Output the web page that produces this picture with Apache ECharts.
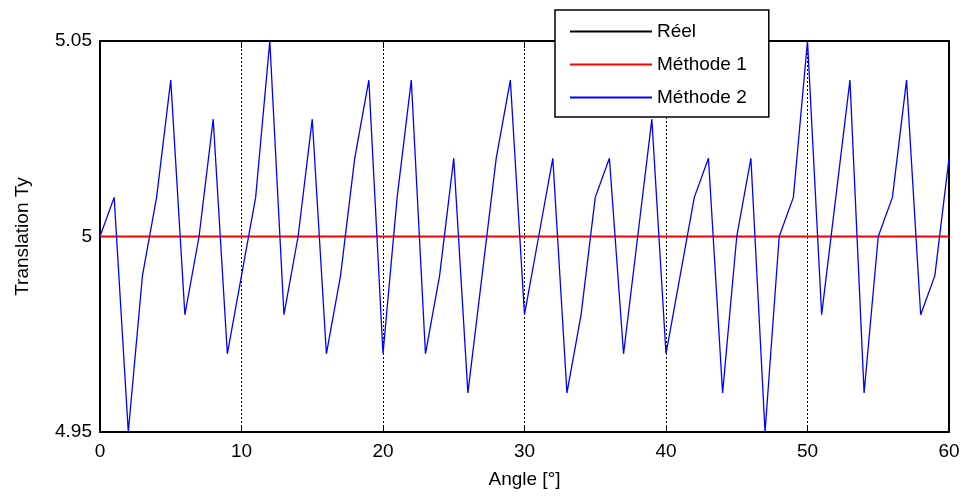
<!DOCTYPE html>
<html>
<head>
<meta charset="utf-8">
<script src="https://cdn.jsdelivr.net/npm/echarts@6/dist/echarts.min.js"></script>
<style>
  html, body { margin: 0; padding: 0; background: #fff; }
  #ct1 { width: 970px; height: 500px; }
</style>
</head>
<body>
<div id="ct1"></div>
<script>
// données
var angles = [0, 1, 2, 3, 4, 5, 6, 7, 8, 9, 10, 11, 12, 13, 14, 15, 16, 17, 18, 19, 20,
    21, 22, 23, 24, 25, 26, 27, 28, 29, 30, 31, 32, 33, 34, 35, 36, 37, 38, 39, 40,
    41, 42, 43, 44, 45, 46, 47, 48, 49, 50, 51, 52, 53, 54, 55, 56, 57, 58, 59, 60];
var reel = [5, 5, 5, 5, 5, 5, 5, 5, 5, 5, 5, 5, 5, 5, 5, 5, 5, 5, 5, 5, 5,
    5, 5, 5, 5, 5, 5, 5, 5, 5, 5, 5, 5, 5, 5, 5, 5, 5, 5, 5, 5,
    5, 5, 5, 5, 5, 5, 5, 5, 5, 5, 5, 5, 5, 5, 5, 5, 5, 5, 5, 5];
var methode1 = [5, 5, 5, 5, 5, 5, 5, 5, 5, 5, 5, 5, 5, 5, 5, 5, 5, 5, 5, 5, 5,
    5, 5, 5, 5, 5, 5, 5, 5, 5, 5, 5, 5, 5, 5, 5, 5, 5, 5, 5, 5,
    5, 5, 5, 5, 5, 5, 5, 5, 5, 5, 5, 5, 5, 5, 5, 5, 5, 5, 5, 5];
var methode2 = [5.00, 5.01, 4.95, 4.99, 5.01, 5.04, 4.98, 5.00, 5.03, 4.97,
    4.99, 5.01, 5.05, 4.98, 5.00, 5.03, 4.97, 4.99, 5.02, 5.04,
    4.97, 5.01, 5.04, 4.97, 4.99, 5.02, 4.96, 4.99, 5.02, 5.04,
    4.98, 5.00, 5.02, 4.96, 4.98, 5.01, 5.02, 4.97, 5.00, 5.03,
    4.97, 4.99, 5.01, 5.02, 4.96, 5.00, 5.02, 4.95, 5.00, 5.01,
    5.05, 4.98, 5.01, 5.04, 4.96, 5.00, 5.01, 5.04, 4.98, 4.99,
    5.02];
var xTicks = [0, 60, 10];
var yTicks = [4.95, 5.05, 0.05];

function pairs(vals) {
    return angles.map(function (a, i) { return [a, vals[i]]; });
}

window.onload = function () {
    var myChart = echarts.init(document.getElementById('ct1'));
    var font = 'Liberation Sans, Arial, sans-serif';

    var option = {
        animation: false,
        backgroundColor: '#fff',
        textStyle: { fontFamily: font },
        grid: { left: 100, right: 21, top: 41, bottom: 68 },
        legend: {
            orient: 'vertical',
            left: 555,
            top: 10,
            padding: [11, 22, 9, 15],
            itemGap: 12,
            itemWidth: 82,
            itemHeight: 2,
            icon: 'rect',
            backgroundColor: '#fff',
            borderColor: '#000',
            borderWidth: 1.5,
            textStyle: { fontSize: 19, color: '#000', lineHeight: 21, fontFamily: font },
            data: ['Réel', 'Méthode 1', 'Méthode 2']
        },
        xAxis: [{
            type: 'value',
            min: xTicks[0], max: xTicks[1], interval: xTicks[2],
            name: 'Angle [°]',
            nameLocation: 'middle',
            nameGap: 38,
            nameTextStyle: { fontSize: 19, color: '#000' },
            axisLine: { onZero: false, lineStyle: { color: '#000', width: 2 } },
            axisTick: { inside: true, length: 7, lineStyle: { color: '#000' } },
            axisLabel: { fontSize: 19, color: '#000', margin: 10 },
            splitLine: { show: true, lineStyle: { color: '#000', type: [2, 2], width: 1 } }
        }, {
            type: 'value',
            position: 'top',
            min: xTicks[0], max: xTicks[1], interval: xTicks[2],
            axisLine: { onZero: false, lineStyle: { color: '#000', width: 2 } },
            axisTick: { inside: true, length: 7, lineStyle: { color: '#000' } },
            axisLabel: { show: false },
            splitLine: { show: false }
        }],
        yAxis: [{
            type: 'value',
            min: yTicks[0], max: yTicks[1], interval: yTicks[2],
            name: 'Translation Ty',
            nameLocation: 'middle',
            nameGap: 68,
            nameRotate: 90,
            nameTextStyle: { fontSize: 19, color: '#000' },
            axisLine: { show: true, onZero: false, lineStyle: { color: '#000', width: 2 } },
            axisTick: { show: true, inside: true, length: 7, lineStyle: { color: '#000' } },
            axisLabel: { fontSize: 19, color: '#000', margin: 8 },
            splitLine: { show: false }
        }, {
            type: 'value',
            position: 'right',
            min: yTicks[0], max: yTicks[1], interval: yTicks[2],
            axisLine: { show: true, onZero: false, lineStyle: { color: '#000', width: 2 } },
            axisTick: { show: true, inside: true, length: 7, lineStyle: { color: '#000' } },
            axisLabel: { show: false },
            splitLine: { show: false }
        }],
        series: [{
            name: 'Réel',
            type: 'line',
            data: pairs(reel),
            showSymbol: false,
            color: '#000',
            lineStyle: { color: '#000', width: 1.5 }
        }, {
            name: 'Méthode 1',
            type: 'line',
            data: pairs(methode1),
            showSymbol: false,
            color: '#ff0000',
            lineStyle: { color: '#ff0000', width: 1.5 }
        }, {
            name: 'Méthode 2',
            type: 'line',
            data: pairs(methode2),
            showSymbol: false,
            color: '#0000ff',
            lineStyle: { color: '#0000ff', width: 1.3 }
        }]
    };

    myChart.setOption(option);
};
</script>
</body>
</html>
